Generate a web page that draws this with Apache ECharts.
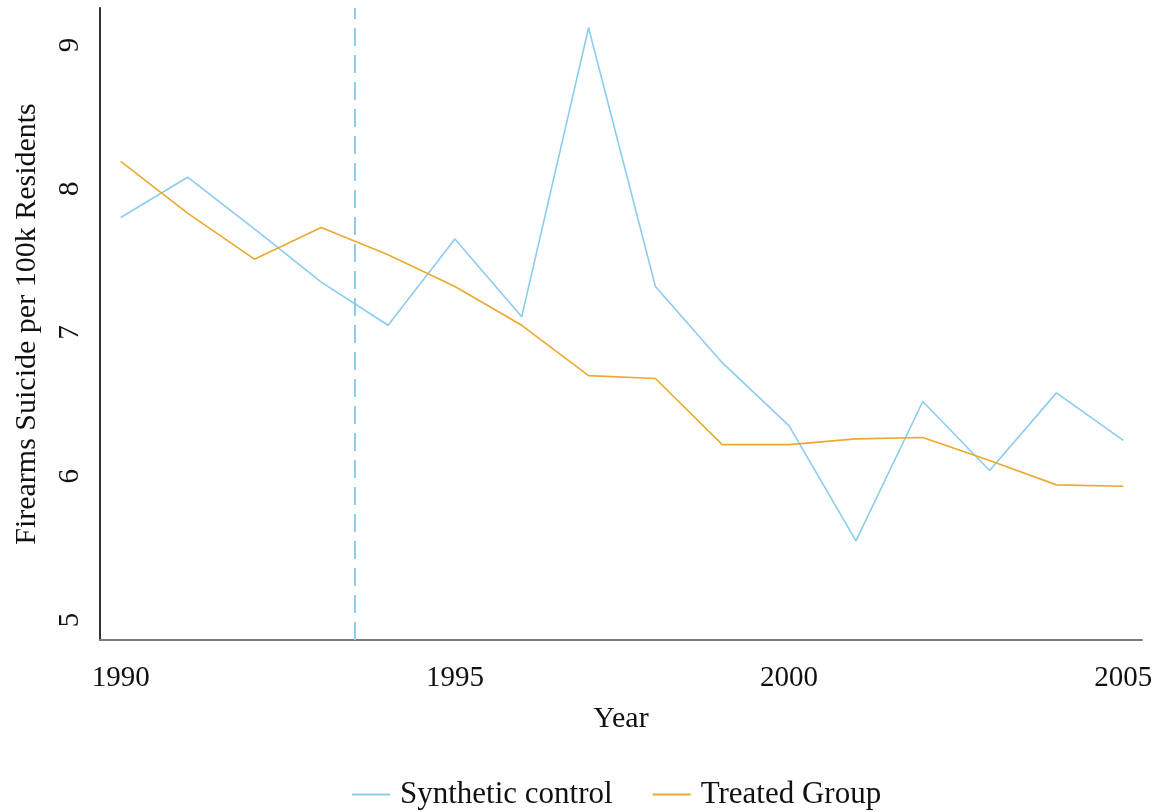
<!DOCTYPE html>
<html>
<head>
<meta charset="utf-8">
<script src="https://cdn.jsdelivr.net/npm/echarts@6/dist/echarts.min.js"></script>
<style>
  html, body { margin: 0; padding: 0; background: #fff; }
  #chart { width: 1162px; height: 812px; }
</style>
</head>
<body>
<div id="chart"></div>
<script>
// 年份与两条序列
const years = [1990, 1991, 1992, 1993, 1994, 1995, 1996, 1997, 1998, 1999, 2000, 2001, 2002, 2003, 2004, 2005];
const syntheticControl = [7.80, 8.08, 7.72, 7.35, 7.05, 7.65, 7.11, 9.12, 7.32, 6.79, 6.35, 5.55, 6.52, 6.04, 6.58, 6.25];
const treatedGroup = [8.19, 7.83, 7.51, 7.73, 7.54, 7.32, 7.05, 6.70, 6.68, 6.22, 6.22, 6.26, 6.27, 6.11, 5.94, 5.93];
const xTicks = [1990, 1995, 2000, 2005];
const yTicks = [5, 6, 7, 8, 9];
const treatmentYear = 1993.5;

const font = 'Liberation Serif, Times New Roman, serif';
const blue = '#8bccef';
const orange = '#ebaa2e';

const chart = echarts.init(document.getElementById('chart'));

const option = {
    backgroundColor: '#ffffff',
    animation: false,
    textStyle: { fontFamily: font },
    grid: {
        left: 100,
        right: 20,
        top: 8,
        bottom: 172
    },
    legend: {
        top: 774,
        left: 347,
        itemWidth: 38,
        itemHeight: 2,
        itemGap: 40,
        icon: 'rect',
        textStyle: { fontFamily: font, fontSize: 31, color: '#111', padding: [0, 0, 0, 5] },
        data: ['Synthetic control', 'Treated Group']
    },
    xAxis: {
        type: 'value',
        min: 1989.69,
        max: 2005.28,
        name: 'Year',
        nameLocation: 'middle',
        nameGap: 64,
        nameTextStyle: { fontFamily: font, fontSize: 30, color: '#111' },
        axisLine: { show: true, lineStyle: { color: '#7a7a7a', width: 2 } },
        axisTick: { show: false },
        splitLine: { show: false },
        axisLabel: {
            customValues: xTicks,
            fontFamily: font,
            fontSize: 29,
            color: '#111',
            margin: 24,
            formatter: v => String(v)
        }
    },
    yAxis: {
        type: 'value',
        min: 4.861,
        max: 9.257,
        name: 'Firearms Suicide per 100k Residents',
        nameLocation: 'middle',
        nameGap: 58,
        nameMoveOverlap: false,
        nameRotate: 90,
        nameTextStyle: { fontFamily: font, fontSize: 30, color: '#111' },
        axisLine: { show: true, lineStyle: { color: '#333', width: 2 } },
        axisTick: { show: false },
        splitLine: { show: false },
        axisLabel: {
            customValues: yTicks,
            rotate: 90,
            fontFamily: font,
            fontSize: 29,
            color: '#111',
            margin: 15
        }
    },
    series: [
        {
            name: 'Synthetic control',
            type: 'line',
            data: years.map((y, i) => [y, syntheticControl[i]]),
            showSymbol: false,
            color: blue,
            lineStyle: { width: 1.6, color: blue },
            markLine: {
                silent: true,
                symbol: 'none',
                label: { show: false },
                lineStyle: { color: blue, width: 2, type: [18, 9] },
                data: [{ xAxis: treatmentYear }]
            }
        },
        {
            name: 'Treated Group',
            type: 'line',
            data: years.map((y, i) => [y, treatedGroup[i]]),
            showSymbol: false,
            color: orange,
            lineStyle: { width: 1.6, color: orange }
        }
    ]
};

chart.setOption(option);
</script>
</body>
</html>
